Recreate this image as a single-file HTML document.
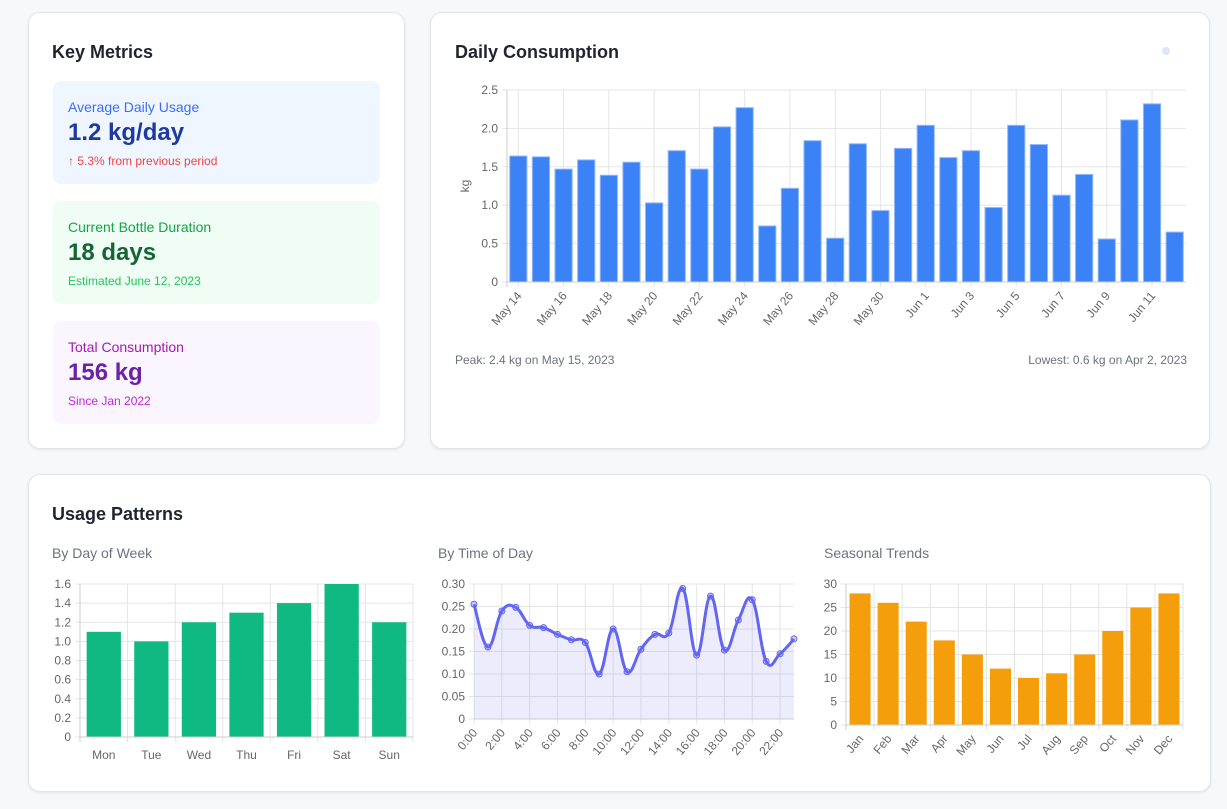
<!DOCTYPE html>
<html><head><meta charset="utf-8">
<style>
body{margin:0;background:#f7f8fa;font-family:"Liberation Sans",sans-serif;width:1227px;height:809px;position:relative;overflow:hidden}
.card{position:absolute;background:#fff;border:1px solid #e3e5e8;border-radius:12px;box-shadow:0 1px 3px rgba(0,0,0,.08)}
h2{position:absolute;margin:0;font-size:18px;font-weight:bold;color:#1f2430}
.m{position:absolute;left:24px;width:327px;height:103px;border-radius:8px}
.m .l{position:absolute;left:15px;top:18px;font-size:14px}
.m .v{position:absolute;left:15px;top:38px;font-size:24px;font-weight:bold}
.m .s{position:absolute;left:15px;top:73px;font-size:12px}
.sub{position:absolute;font-size:14px;color:#6b7280}
svg text{font-family:"Liberation Sans",sans-serif}
</style></head><body>
<div class="card" style="left:28px;top:12px;width:375px;height:435px">
<h2 style="left:23px;top:29px">Key Metrics</h2>
<div class="m" style="top:68px;background:#eff6ff"><div class="l" style="color:#3b6ef5">Average Daily Usage</div><div class="v" style="color:#1e3a9f">1.2 kg/day</div><div class="s" style="color:#ef4444">↑ 5.3% from previous period</div></div>
<div class="m" style="top:188px;background:#f0fdf4"><div class="l" style="color:#16a34a">Current Bottle Duration</div><div class="v" style="color:#166534">18 days</div><div class="s" style="color:#22c55e">Estimated June 12, 2023</div></div>
<div class="m" style="top:308px;background:#faf5ff"><div class="l" style="color:#a21caf">Total Consumption</div><div class="v" style="color:#6b21a8">156 kg</div><div class="s" style="color:#c026d3">Since Jan 2022</div></div>
</div>
<div class="card" style="left:430px;top:12px;width:778px;height:435px">
<h2 style="left:24px;top:29px">Daily Consumption</h2>
<div style="position:absolute;left:731px;top:34px;width:8px;height:8px;border-radius:50%;background:#dbe6fb"></div>
<div style="position:absolute;left:24px;top:340px;font-size:12px;color:#6b7280">Peak: 2.4 kg on May 15, 2023</div>
<div style="position:absolute;right:22px;top:340px;font-size:12px;color:#6b7280">Lowest: 0.6 kg on Apr 2, 2023</div>
</div>
<div class="card" style="left:28px;top:474px;width:1181px;height:316px">
<h2 style="left:23px;top:29px">Usage Patterns</h2>
<div class="sub" style="left:23px;top:70px">By Day of Week</div>
<div class="sub" style="left:409px;top:70px">By Time of Day</div>
<div class="sub" style="left:795px;top:70px">Seasonal Trends</div>
</div>
<svg id="s" width="1227" height="809" style="position:absolute;left:0;top:0"></svg>
<script>
const dailyLabels=["May 14","May 15","May 16","May 17","May 18","May 19","May 20","May 21","May 22","May 23","May 24","May 25","May 26","May 27","May 28","May 29","May 30","May 31","Jun 1","Jun 2","Jun 3","Jun 4","Jun 5","Jun 6","Jun 7","Jun 8","Jun 9","Jun 10","Jun 11","Jun 12"];
const dailyValues=[1.64,1.63,1.47,1.59,1.39,1.56,1.03,1.71,1.47,2.02,2.27,0.73,1.22,1.84,0.57,1.80,0.93,1.74,2.04,1.62,1.71,0.97,2.04,1.79,1.13,1.40,0.56,2.11,2.32,0.65];
const dailyTicks=[0,0.5,1.0,1.5,2.0,2.5];
const dowLabels=["Mon","Tue","Wed","Thu","Fri","Sat","Sun"];
const dowValues=[1.1,1.0,1.2,1.3,1.4,1.6,1.2];
const dowTicks=[0,0.2,0.4,0.6,0.8,1.0,1.2,1.4,1.6];
const hourLabels=["0:00","1:00","2:00","3:00","4:00","5:00","6:00","7:00","8:00","9:00","10:00","11:00","12:00","13:00","14:00","15:00","16:00","17:00","18:00","19:00","20:00","21:00","22:00","23:00"];
const hourValues=[0.255,0.16,0.24,0.248,0.208,0.203,0.188,0.176,0.17,0.10,0.20,0.105,0.155,0.188,0.191,0.29,0.142,0.273,0.153,0.22,0.265,0.128,0.145,0.178];
const hourTicks=[0,0.05,0.10,0.15,0.20,0.25,0.30];
const monthLabels=["Jan","Feb","Mar","Apr","May","Jun","Jul","Aug","Sep","Oct","Nov","Dec"];
const monthValues=[28,26,22,18,15,12,10,11,15,20,25,28];
const monthTicks=[0,5,10,15,20,25,30];
const S=document.getElementById('s'),NS='http://www.w3.org/2000/svg';
function el(t,a,txt){const e=document.createElementNS(NS,t);for(const k in a)e.setAttribute(k,a[k]);if(txt!==undefined)e.textContent=txt;S.appendChild(e);return e;}
function yAxis(x0,x1,y0,y1,max,ticks,fmt,name){const y=v=>y0-(v/max)*(y0-y1);
 ticks.forEach(t=>{const g=el('line',{x1:x0-5,x2:x1,y1:y(t),y2:y(t),stroke:'#e5e5e5'});
 const l=el('text',{x:x0-9,y:y(t)+4,'text-anchor':'end','font-size':12,fill:'#666'},fmt(t));});
 el('line',{x1:x0,x2:x0,y1:y1,y2:y0+5,stroke:'#ccc'});return y;}
function xLabel(x,y,txt,rot,name){const t=el('text',{x:x,y:y,'font-size':12,fill:'#666','text-anchor':rot?'end':'middle',transform:rot?`rotate(-50 ${x} ${y})`:''},txt);}
// daily
(function(){const x0=507,x1=1186,y0=282,y1=90;const y=yAxis(x0,x1,y0,y1,2.5,dailyTicks,t=>t===0?'0':t.toFixed(1),'daily');
 const w=(x1-x0)/dailyValues.length;
 dailyLabels.forEach((l,i)=>{if(i%2===0){const cx=x0+w*(i+0.5);el('line',{x1:cx,x2:cx,y1:y1,y2:y0+5,stroke:'#e5e5e5'});xLabel(cx+4,y0+14,l,true,'daily-x-label');}});
 dailyValues.forEach((v,i)=>{const b=el('rect',{x:x0+w*i+w*0.12,y:y(v),width:w*0.76,height:y0-y(v),fill:'#3b82f6',stroke:'#93b8f8','stroke-width':1});});
 el('line',{x1:x0,x2:x1,y1:y0,y2:y0,stroke:'#ccc'});
 const t=el('text',{x:469,y:186,'font-size':12,fill:'#666','text-anchor':'middle',transform:'rotate(-90 469 186)'},'kg');})();
// dow
(function(){const x0=80,x1=413,y0=737,y1=584;const y=yAxis(x0,x1,y0,y1,1.6,dowTicks,t=>t===0?'0':t.toFixed(1),'dow');const w=(x1-x0)/dowValues.length;
 dowLabels.forEach((l,i)=>{const gx=x0+w*(i+1);el('line',{x1:gx,x2:gx,y1:y1,y2:y0+5,stroke:'#e5e5e5'});xLabel(x0+w*(i+0.5),y0+22,l,false,'dow-x-label');});
 dowValues.forEach((v,i)=>{const b=el('rect',{x:x0+w*i+w*0.14,y:y(v),width:w*0.72,height:y0-y(v),fill:'#10b981'});});
 el('line',{x1:x0,x2:x1,y1:y0,y2:y0,stroke:'#ccc'});})();
// time
(function(){const x0=474,x1=794,y0=719,y1=584;const y=yAxis(x0,x1,y0,y1,0.3,hourTicks,t=>t===0?'0':t.toFixed(2),'hour');const w=(x1-x0)/(hourValues.length-1);
 hourLabels.forEach((l,i)=>{if(i%2===0){const cx=x0+w*i;el('line',{x1:cx,x2:cx,y1:y1,y2:y0+5,stroke:'#e5e5e5'});xLabel(cx+4,y0+14,l,true,'hour-x-label');}});
 const P=hourValues.map((v,i)=>[x0+w*i,y(v)]);let d='M'+P[0];
 for(let i=0;i<P.length-1;i++){const p0=P[i-1]||P[i],p1=P[i],p2=P[i+1],p3=P[i+2]||p2,k=0.2;
  d+=` C${p1[0]+(p2[0]-p0[0])*k},${p1[1]+(p2[1]-p0[1])*k} ${p2[0]-(p3[0]-p1[0])*k},${p2[1]-(p3[1]-p1[1])*k} ${p2[0]},${p2[1]}`;}
 const a=el('path',{d:d+` L${x1},${y0} L${x0},${y0}Z`,fill:'rgba(99,102,241,0.12)'});
 const ln=el('path',{d:d,fill:'none',stroke:'#6366f1','stroke-width':3});
 P.forEach(p=>{const c=el('circle',{cx:p[0],cy:p[1],r:3,fill:'rgba(99,102,241,0.3)',stroke:'#6366f1','stroke-width':1});});
 el('line',{x1:x0,x2:x1,y1:y0,y2:y0,stroke:'#ccc'});})();
// seasonal
(function(){const x0=846,x1=1183,y0=725,y1=584;const y=yAxis(x0,x1,y0,y1,30,monthTicks,t=>String(t),'month');const w=(x1-x0)/monthValues.length;
 monthLabels.forEach((l,i)=>{const cx=x0+w*(i+0.5);el('line',{x1:x0+w*(i+1),x2:x0+w*(i+1),y1:y1,y2:y0+5,stroke:'#e5e5e5'});xLabel(cx+4,y0+14,l,true,'month-x-label');});
 monthValues.forEach((v,i)=>{const b=el('rect',{x:x0+w*i+w*0.125,y:y(v),width:w*0.75,height:y0-y(v),fill:'#f59e0b'});});
 el('line',{x1:x0,x2:x1,y1:y0,y2:y0,stroke:'#ccc'});})();
</script>
</body></html>
